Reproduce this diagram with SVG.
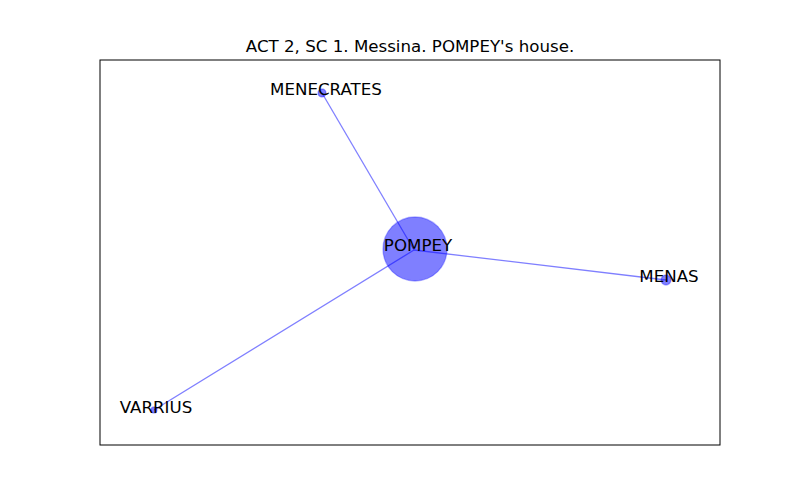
<svg xmlns="http://www.w3.org/2000/svg" width="800" height="500" viewBox="0 0 800 500">
<style>
.edge{stroke:#0000ff;stroke-opacity:0.5;stroke-width:1.3;fill:none}
.node{fill:#0000ff;fill-opacity:0.5;stroke:#0000ff;stroke-opacity:0.3;stroke-width:1.3}
.lbl{font-family:"DejaVu Sans",sans-serif;font-size:16.67px;fill:#000;text-anchor:middle}
</style>
<rect width="800" height="500" fill="#fff"/>
<text class="lbl" x="410" y="52">ACT 2, SC 1. Messina. POMPEY's house.</text>
<rect x="100" y="60" width="620" height="385" fill="none" stroke="#000" stroke-width="1"/>
<g id="edges">
<line class="edge" x1="414" y1="250" x2="322" y2="93"/>
<line class="edge" x1="414" y1="250" x2="666" y2="280"/>
<line class="edge" x1="414" y1="250" x2="154" y2="410"/>
</g>
<g id="node-POMPEY"><circle class="node" cx="415" cy="249" r="32"/><text class="lbl" x="418" y="251">POMPEY</text></g>
<g id="node-MENECRATES"><circle class="node" cx="322" cy="93" r="4"/><text class="lbl" x="326" y="95">MENECRATES</text></g>
<g id="node-MENAS"><circle class="node" cx="666" cy="280" r="5"/><text class="lbl" x="669" y="282">MENAS</text></g>
<g id="node-VARRIUS"><circle class="node" cx="154" cy="410" r="3"/><text class="lbl" x="156" y="413">VARRIUS</text></g>
</svg>
